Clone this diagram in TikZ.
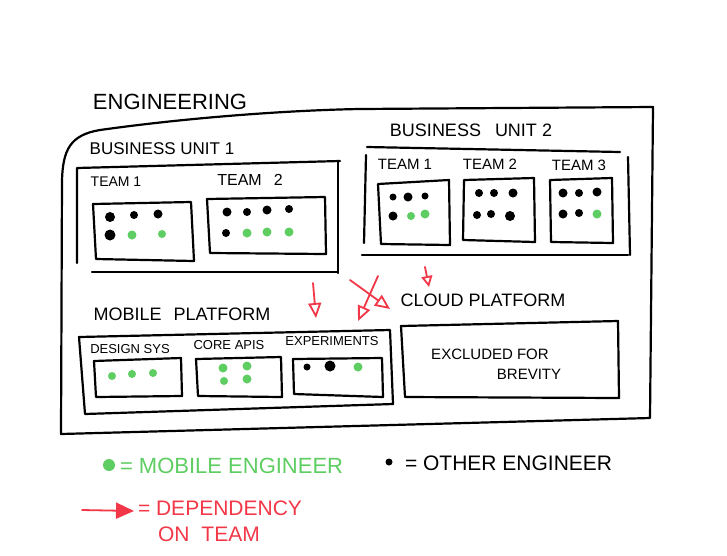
\documentclass[tikz,border=0pt]{standalone}
\usepackage{fontspec}
\setmainfont{Liberation Sans}
\usetikzlibrary{arrows.meta}
\definecolor{mgreen}{RGB}{94,206,98}
\definecolor{dred}{RGB}{242,56,72}
\tikzset{
  pen/.style={line width=2.2pt, line join=round, line cap=round, draw=black},
  redpen/.style={line width=1.8pt, line cap=round, draw=dred},
  redhead/.style={-{Triangle[open, length=15pt, width=13pt, line width=1.8pt]}},
  lbl/.style={inner sep=0pt, outer sep=0pt, anchor=center},
  bdot/.style={fill=black, draw=none},
  gdot/.style={fill=mgreen, draw=none},
}
\newcommand\fs[1]{\fontsize{#1}{#1}\selectfont}
\begin{document}
\begin{tikzpicture}[x=1pt,y=-1pt]
\useasboundingbox (0,0) rectangle (727,555);
\fill[white] (0,0) rectangle (727,555);

% outer engineering box
\node[lbl] (eng) at (170,102) {\fs{22}ENGINEERING};
\draw[pen] (61,434) -- (62,180) .. controls (63,150) and (70,135) .. (100,130)
  .. controls (200,116) and (300,110) .. (360,109) -- (653,107) -- (650,418) -- cycle;

% business unit 1
\node[lbl] (bu1) at (162,149) {\fs{17}BUSINESS UNIT 1};
\draw[pen] (77,263) -- (77,168) -- (340,161);
\draw[pen] (338,161) -- (338,273);
\draw[pen] (92,272) -- (337,272);
\node[lbl] (b1t1) at (116,182) {\fs{14}TEAM 1};
\node[lbl] (b1t2) at (250,180) {\fs{16}TEAM\hspace{12pt}2};
\draw[pen] (93,204) -- (191,202) -- (194,261) -- (96,259) -- cycle;
\draw[pen] (207,199) -- (325,197) -- (326,254) -- (210,253) -- cycle;
\fill[bdot] (110,217) circle (5);
\fill[bdot] (134,215) circle (4);
\fill[bdot] (158,214) circle (4.5);
\fill[bdot] (110,235) circle (5.5);
\fill[gdot] (132,235) circle (4.5);
\fill[gdot] (162,234) circle (4);
\fill[bdot] (227,212) circle (4.5);
\fill[bdot] (247,212) circle (4);
\fill[bdot] (267,210) circle (4.5);
\fill[bdot] (289,209) circle (4);
\fill[bdot] (226,233) circle (4);
\fill[gdot] (247,233) circle (4.5);
\fill[gdot] (267,232) circle (4.5);
\fill[gdot] (289,232) circle (4.5);

% business unit 2
\node[lbl] (bu2) at (471,130) {\fs{18}BUSINESS\hspace{14pt}UNIT 2};
\draw[pen] (367,147) -- (620,152);
\draw[pen] (366,155) -- (364,243);
\draw[pen] (362,255) -- (628,255);
\draw[pen] (628,157) -- (630,255);
\node[lbl] (b2t1) at (405,164) {\fs{15}TEAM 1};
\node[lbl] (b2t2) at (490,164) {\fs{15}TEAM 2};
\node[lbl] (b2t3) at (579,165) {\fs{15}TEAM 3};
\draw[pen] (378,184) -- (449,180) -- (450,245) -- (381,244) -- cycle;
\draw[pen] (464,180) -- (534,178) -- (535,242) -- (463,240) -- cycle;
\draw[pen] (550,180) -- (612,178) -- (613,243) -- (551,242) -- cycle;
\fill[bdot] (393,197) circle (3.5);
\fill[bdot] (408,197) circle (4.5);
\fill[bdot] (425,196) circle (3.5);
\fill[bdot] (393,216) circle (4.5);
\fill[gdot] (411,216) circle (4);
\fill[gdot] (425,214) circle (4.5);
\fill[bdot] (479,193) circle (4);
\fill[bdot] (494,193) circle (4);
\fill[bdot] (513,193) circle (4.5);
\fill[bdot] (477,215) circle (4);
\fill[bdot] (491,214) circle (4);
\fill[bdot] (510,216) circle (5);
\fill[bdot] (563,193) circle (4.5);
\fill[bdot] (579,193) circle (4);
\fill[bdot] (597,192) circle (4.5);
\fill[bdot] (563,214) circle (4.5);
\fill[bdot] (579,213) circle (4);
\fill[gdot] (597,214) circle (4.5);

% mobile platform
\node[lbl] (mob) at (182,314) {\fs{18}MOBILE\hspace{12pt}PLATFORM};
\draw[pen] (79,337) -- (390,330) -- (393,404) -- (85,414) -- cycle;
\node[lbl] (ds) at (130,349) {\fs{13}DESIGN SYS};
\node[lbl] (ca) at (229,345) {\fs{13}CORE APIS};
\node[lbl] (exp) at (332,341) {\fs{13}EXPERIMENTS};
\draw[pen] (94,361) -- (181,358) -- (182,396) -- (96,397) -- cycle;
\draw[pen] (196,359) -- (281,357) -- (282,397) -- (198,396) -- cycle;
\draw[pen] (293,359) -- (382,358) -- (383,397) -- (294,394) -- cycle;
\fill[gdot] (112,376) circle (4);
\fill[gdot] (132,374) circle (4);
\fill[gdot] (153,373) circle (4);
\fill[gdot] (223,368) circle (4.5);
\fill[gdot] (247,366) circle (4.5);
\fill[gdot] (224,381) circle (4);
\fill[gdot] (247,379) circle (4.5);
\fill[bdot] (307,367) circle (3.5);
\fill[bdot] (330,366) circle (5.5);
\fill[gdot] (358,367) circle (4.5);

% cloud platform
\node[lbl] (cloud) at (483,300) {\fs{18}CLOUD PLATFORM};
\draw[pen] (401,326) -- (618,321) -- (619,398) -- (405,397) -- cycle;
\node[lbl] (ex1) at (490,354) {\fs{15}EXCLUDED FOR};
\node[lbl] (ex2) at (529,374) {\fs{15}BREVITY};

% dependency arrows
\coordinate (a1s) at (313,283); \coordinate (a1e) at (316,318);
\coordinate (a2s) at (378,276); \coordinate (a2e) at (358,321);
\coordinate (a3s) at (350,280); \coordinate (a3e) at (390,309);
\coordinate (a4s) at (425,267); \coordinate (a4e) at (429,287);
\draw[redpen, redhead] (a1s) -- (a1e);
\draw[redpen, redhead] (a2s) -- (a2e);
\draw[redpen, redhead] (a3s) -- (a3e);
\draw[redpen, -{Triangle[open, length=11pt, width=11pt, line width=1.8pt]}] (a4s) -- (a4e);

% legend
\fill[gdot] (109,465) circle (6);
\node[lbl, anchor=west, text=mgreen] (lg1) at (120,466) {\fs{22}= MOBILE ENGINEER};
\fill[bdot] (389,462) circle (3.5);
\node[lbl, anchor=west] (lg2) at (405,463) {\fs{21}= OTHER ENGINEER};
\coordinate (la1) at (82,510); \coordinate (la2) at (134,511);
\draw[redpen, -{Triangle[length=18pt, width=16pt]}] (la1) -- (la2);
\node[lbl, anchor=west, text=dred] (lg3) at (138,508) {\fs{21}= DEPENDENCY};
\node[lbl, anchor=west, text=dred] (lg4) at (158,534) {\fs{21}ON\hspace{12pt}TEAM};
\end{tikzpicture}
\end{document}
